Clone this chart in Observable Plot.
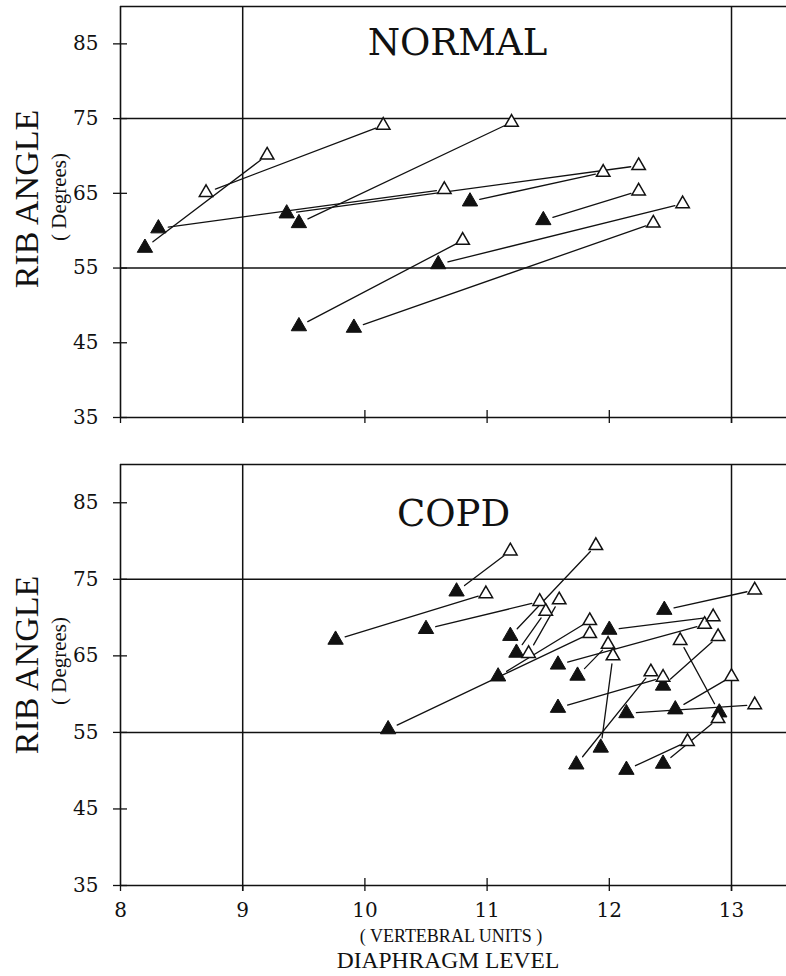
<!DOCTYPE html>
<html><head><meta charset="utf-8">
<script src="https://cdn.jsdelivr.net/npm/d3@7"></script>
<script src="https://cdn.jsdelivr.net/npm/@observablehq/plot@0.6"></script>
<style>
body{margin:0;background:#fff;}
#wrap{position:relative;width:786px;height:976px;overflow:hidden;background:#fff;color:#111;}
.lab{position:absolute;white-space:nowrap;line-height:1;font-family:"Liberation Serif",serif;}
.h{transform:translate(-50%,-50%);}
.v{transform:translate(-50%,-50%) rotate(-90deg);}
#wrap svg{position:absolute;left:0;}
</style></head><body>
<div id="wrap"></div>
<script>
// ---- axes / ticks ----
const xTicks = [8, 9, 10, 11, 12, 13];
const yTicks = [35, 45, 55, 65, 75, 85];
const xDomain = [8, 13.45];
const yDomain = [35, 90];
const gridXValues = [9, 13];
const gridYValues = [55, 75];
const panelNames = ["NORMAL", "COPD"];

// ---- NORMAL panel: each subject = start point -> end point ----
const normalFromX = [8.20, 8.31, 8.70, 9.36, 9.46, 10.60, 9.46, 9.91, 10.86, 11.46];
const normalFromY = [57.7, 60.3, 65.1, 62.3, 61.0, 55.5, 47.2, 47.0, 63.9, 61.4];
const normalToX   = [9.20, 10.65, 10.15, 12.24, 11.20, 12.60, 10.80, 12.36, 11.95, 12.24];
const normalToY   = [70.1, 65.5, 74.1, 68.7, 74.5, 63.6, 58.7, 61.0, 67.8, 65.3];
const normalFromKind = ["filled","filled","open","filled","filled","filled","filled","filled","filled","filled"];

// ---- COPD panel ----
const copdFromX = [9.76, 10.19, 10.50, 10.75, 11.09, 11.19, 11.24, 11.34, 11.58, 11.74, 12.00, 12.45, 11.58, 12.44, 12.14, 12.54, 12.90, 11.93, 11.73, 12.14, 12.44];
const copdFromY = [67.1, 55.4, 68.5, 73.4, 62.3, 67.6, 65.4, 65.3, 63.85, 62.4, 68.4, 71.0, 58.2, 61.1, 57.5, 58.0, 57.6, 53.0, 50.8, 50.1, 50.9];
const copdToX   = [10.99, 11.84, 11.43, 11.19, 11.84, 11.89, 11.48, 11.59, 12.78, 11.99, 12.85, 13.19, 12.44, 12.89, 13.19, 13.00, 12.58, 12.03, 12.34, 12.64, 12.89];
const copdToY   = [73.1, 67.9, 72.1, 78.7, 69.6, 79.4, 70.8, 72.3, 69.1, 66.5, 70.1, 73.6, 62.2, 67.5, 58.6, 62.3, 67.0, 65.0, 62.9, 53.8, 56.8];
const copdFromKind = ["filled","filled","filled","filled","filled","filled","filled","open","filled","filled","filled","filled","filled","filled","filled","filled","filled","filled","filled","filled","filled"];

function rowsOf(fx, fy, tx, ty, kind) {
  return fx.map((d, i) => ({x1: d, y1: fy[i], x2: tx[i], y2: ty[i], kind: kind[i]}));
}

const INK = "#111";

function panel(name, rows, o) {
  const innerW = 786 - 120;
  const innerH = o.height - o.marginTop - o.marginBottom;
  const filled = rows.filter(r => r.kind === "filled").map(r => ({x: r.x1, y: r.y1}));
  const open = rows.map(r => ({x: r.x2, y: r.y2}))
    .concat(rows.filter(r => r.kind === "open").map(r => ({x: r.x1, y: r.y1})));
  const innerTicksX = xTicks.filter(v => v > xDomain[0] && !gridXValues.includes(v));
  return Plot.plot({
    width: 786, height: o.height,
    marginLeft: 120, marginRight: 0, marginTop: o.marginTop, marginBottom: o.marginBottom,
    x: {domain: xDomain, label: null},
    y: {domain: yDomain, label: null},
    style: {fontFamily: "DejaVu Serif", fontSize: "20px", color: INK, background: "white", overflow: "visible"},
    marks: [
      Plot.ruleY(gridYValues, {stroke: INK, strokeWidth: 1.5}),
      Plot.ruleX(gridXValues, {stroke: INK, strokeWidth: 1.5, insetBottom: -6}),
      Plot.ruleX([xDomain[0]], {stroke: INK, strokeWidth: 1.6}),
      Plot.ruleY(yDomain, {stroke: INK, strokeWidth: 1.6}),
      Plot.axisY(yTicks, {tickSize: 7, tickPadding: 15, stroke: INK, strokeWidth: 1.3, fontSize: 20, label: null}),
      Plot.tickY(yTicks, {y: d => d, insetRight: innerW - 7, stroke: INK, strokeWidth: 1.3}),
      Plot.axisX(xTicks, {tickSize: 6, tickPadding: 11, stroke: INK, strokeWidth: 1.3, fontSize: 20, label: null,
        tickFormat: o.showX ? (d => String(d)) : (() => "")}),
      Plot.tickX(innerTicksX, {x: d => d, insetTop: innerH - 7, stroke: INK, strokeWidth: 1.3}),
      Plot.text([name], {text: d => d, frameAnchor: "top", lineAnchor: "top", dx: o.titleDx, dy: o.titleDy,
        fontSize: 37, fontFamily: "DejaVu Serif", fill: INK}),
      Plot.arrow(rows, {x1: "x1", y1: "y1", x2: "x2", y2: "y2", headLength: 0, insetStart: 10, insetEnd: 8,
        stroke: INK, strokeWidth: 1.3}),
      Plot.dot(filled, {x: "x", y: "y", symbol: "triangle", r: 5.7, fill: INK, stroke: INK, strokeWidth: 1}),
      Plot.dot(open, {x: "x", y: "y", symbol: "triangle", r: 5, fill: "white", stroke: INK, strokeWidth: 1.5})
    ]
  });
}

const wrapEl = document.getElementById("wrap");

const normalSvg = panel(panelNames[0], rowsOf(normalFromX, normalFromY, normalToX, normalToY, normalFromKind),
  {height: 430, marginTop: 6, marginBottom: 13, showX: false, titleDx: 4, titleDy: 22});
normalSvg.style.top = "0px";
wrapEl.appendChild(normalSvg);

const copdSvg = panel(panelNames[1], rowsOf(copdFromX, copdFromY, copdToX, copdToY, copdFromKind),
  {height: 486, marginTop: 24, marginBottom: 41, showX: true, titleDx: 0, titleDy: 35});
copdSvg.style.top = "440px";
wrapEl.appendChild(copdSvg);

function addLabel(text, x, y, size, cls) {
  const d = document.createElement("div");
  d.className = "lab " + cls;
  d.textContent = text;
  d.style.left = x + "px";
  d.style.top = y + "px";
  d.style.fontSize = size + "px";
  wrapEl.appendChild(d);
}
addLabel("RIB ANGLE", 27, 199, 34, "v");
addLabel("( Degrees)", 59, 197, 21, "v");
addLabel("RIB ANGLE", 27, 665, 34, "v");
addLabel("( Degrees)", 59, 661, 21, "v");
addLabel("( VERTEBRAL UNITS )", 451, 936, 18, "h");
addLabel("DIAPHRAGM LEVEL", 448, 961, 23.5, "h");
</script>
</body></html>
